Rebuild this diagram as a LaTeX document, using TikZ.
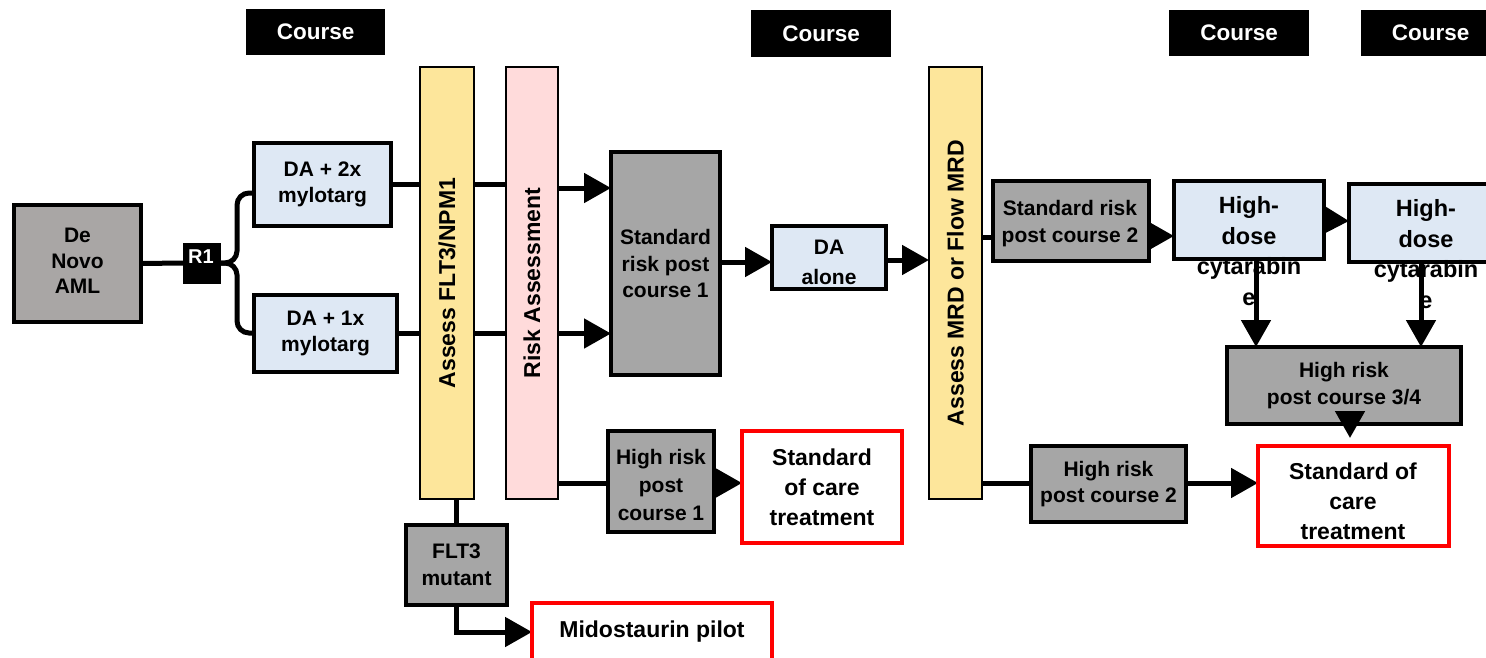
\documentclass[tikz,border=0pt]{standalone}
\usepackage{fontspec}
\setmainfont{Liberation Sans}
\usetikzlibrary{arrows.meta,calc}
\definecolor{grayA}{HTML}{A9A6A5}
\definecolor{grayB}{HTML}{A6A6A6}
\definecolor{lblue}{HTML}{DEE8F4}
\definecolor{yel}{HTML}{FDE69B}
\definecolor{pnk}{HTML}{FFDBDB}
\pgfdeclarelayer{bg}
\pgfsetlayers{bg,main}
\begin{document}
\begin{tikzpicture}[x=1pt,y=-1pt,
  box/.style={draw, line width=4pt, inner sep=0pt, outer sep=0pt, anchor=north west, align=center,
    font=\bfseries\fontsize{21}{26.5}\selectfont},
  gbox/.style={box, fill=grayB},
  bbox/.style={box, fill=lblue},
  rbox/.style={box, draw=red, fill=white, font=\bfseries\fontsize{23}{30}\selectfont},
  bar/.style={draw, line width=1.5pt, inner sep=0pt, outer sep=0pt, anchor=north west},
  course/.style={fill=black, inner sep=0pt, anchor=north west, text=white,
    font=\bfseries\fontsize{22.5}{26}\selectfont},
  txt/.style={inner sep=0pt, align=center},
  conn/.style={line width=5pt},
  arr/.style={conn, -{Triangle[length=27pt,width=29pt]}}
]
\useasboundingbox (0,0) rectangle (1486,658);

% Course labels
\node[course, minimum width=139, minimum height=46] (c1) at (246,9) {Course};
\node[course, minimum width=140, minimum height=47] (c2) at (751,10) {Course};
\node[course, minimum width=140, minimum height=46] (c3) at (1169,10) {Course};
\node[course, minimum width=139, minimum height=46] (c4) at (1361,10) {Course};

% Nodes
\node[box, fill=grayA, minimum width=127, minimum height=117] (aml) at (14,205) {};
\node[txt, font=\bfseries\fontsize{21}{25.5}\selectfont] (amlt) at (77.5,261) {De\\Novo\\AML};
\node[box, fill=black, line width=1pt, minimum width=37, minimum height=40] (r1) at (183,243) {};
\node[txt, text=white, font=\bfseries\fontsize{20}{24}\selectfont] (r1t) at (201,257) {R1};
\node[bbox, minimum width=137, minimum height=83] (da2) at (254,143) {DA + 2x\\mylotarg};
\node[bbox, minimum width=143, minimum height=77] (da1) at (254,295) {DA + 1x\\mylotarg};

\node[bar, fill=yel, minimum width=54, minimum height=432] (flt) at (420,67) {};
\node[rotate=90, font=\bfseries\fontsize{23}{26}\selectfont] (fltt) at (flt.center) {Assess FLT3/NPM1};
\node[bar, fill=pnk, minimum width=52, minimum height=432] (ra) at (506,67) {};
\node[rotate=90, font=\bfseries\fontsize{23}{26}\selectfont] (rat) at (ra.center) {Risk Assessment};

\node[gbox, minimum width=109, minimum height=223] (sr1) at (611,152) {Standard\\risk post\\course 1};
\node[gbox, minimum width=106, minimum height=101] (hr1) at (608,431) {};
\node[txt, font=\bfseries\fontsize{21}{28}\selectfont] (hr1t) at (661,485) {High risk\\post\\course 1};
\node[rbox, minimum width=160, minimum height=112] (soc1) at (742,431) {Standard\\of care\\treatment};
\node[gbox, minimum width=101, minimum height=80] (fm) at (406,525) {FLT3\\mutant};
\node[rbox, minimum width=240, minimum height=58] (mido) at (532,603) {Midostaurin pilot};

\node[bbox, minimum width=114, minimum height=63] (da) at (772,226) {};
\node[txt, font=\bfseries\fontsize{21}{30}\selectfont] (dat) at (829,262) {DA\\alone};

\node[bar, fill=yel, minimum width=53, minimum height=432] (mrd) at (929,67) {};
\node[rotate=90, font=\bfseries\fontsize{23}{26}\selectfont] (mrdt) at (mrd.center) {Assess MRD or Flow MRD};

\node[gbox, minimum width=156, minimum height=80] (sr2) at (993,181) {};
\node[txt, font=\bfseries\fontsize{21}{27}\selectfont] (sr2t) at (1070,224) {Standard risk\\post course 2};
\node[bbox, minimum width=150, minimum height=78] (hd1) at (1174,181) {};
\node[txt, font=\bfseries\fontsize{23.5}{30.5}\selectfont] (hd1t) at (1249,251) {High-\\dose\\cytarabin\\e};
\node[bbox, minimum width=142, minimum height=78] (hd2) at (1349,184) {};
\node[txt, font=\bfseries\fontsize{23.5}{30.5}\selectfont] (hd2t) at (1426,254) {High-\\dose\\cytarabin\\e};
\node[gbox, minimum width=234, minimum height=77] (hr34) at (1227,347) {High risk\\post course 3/4};
\node[gbox, minimum width=155, minimum height=76] (hr2) at (1031,446) {High risk\\post course 2};
\node[rbox, minimum width=191, minimum height=100] (soc2) at (1258,446) {};
\node[txt, font=\bfseries\fontsize{23}{30}\selectfont] (soc2t) at (1353,501) {Standard of\\care\\treatment};

% Connectors (behind)
\begin{pgfonlayer}{bg}
\draw[conn] (aml.east) -- (r1.west);
\draw[conn, rounded corners=12pt] (r1.east) -| (237,193) -- (da2.west |- 0,193);
\draw[conn, rounded corners=12pt] (r1.east) -| (237,333) -- (da1.west |- 0,333);
\draw[conn] (da2.east) -- (ra.west |- da2.east);
\draw[arr] (ra.east |- 0,188) -- (sr1.west |- 0,188);
\draw[arr] (da1.east) -- (sr1.west |- da1.east);
\draw[conn] (ra.east |- 0,483) -- (hr1.west |- 0,483);
\draw[arr] (hr1.east |- 0,483) -- (soc1.west |- 0,483);
\draw[conn] (flt.south -| fm.north) -- (fm.north);
\draw[arr] (fm.south) |- (mido.west);
\draw[arr] (sr1.east |- 0,262) -- (da.west |- 0,262);
\draw[arr] (da.east |- 0,260) -- (mrd.west |- 0,260);
\draw[conn] (mrd.east |- 0,237) -- (sr2.west |- 0,237);
\draw[arr] (sr2.east |- 0,236) -- (hd1.west |- 0,236);
\draw[arr] (hd1.east |- 0,220) -- (hd2.west |- 0,221);
\draw[conn] (mrd.east |- 0,483) -- (hr2.west |- 0,483);
\draw[arr] (hr2.east |- 0,483) -- (soc2.west |- 0,483);
\end{pgfonlayer}
% down arrows over text
\draw[arr] (hd1.south -| 1256,0) -- (hr34.north -| 1256,0);
\draw[arr] (hd2.south -| 1421,0) -- (hr34.north -| 1421,0);
\draw[arr] (hr34.south -| 1350,0) -- ([yshift=8]soc2.north -| 1350,0);
\end{tikzpicture}
\end{document}
